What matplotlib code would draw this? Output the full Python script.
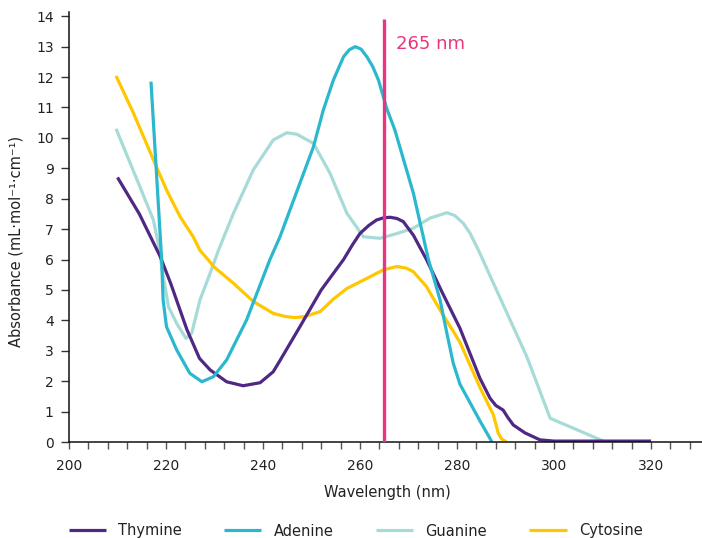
import numpy as np
import matplotlib
matplotlib.use("Agg")
import matplotlib.pyplot as plt

# ---- data (wavelength nm, absorbance) ----
thymine_x = [210, 214.5, 218.8, 221, 224.3, 226.9, 229.1, 232.5, 235.9, 239.4, 242.1, 243.5,
             247.6, 252, 256.6, 258.5, 260, 261.8, 263.4, 264.8, 266.2, 267.6, 268.9, 271, 273.7,
             277, 280.6, 284.7, 286.8, 288, 289.5, 290.5, 291.6, 294, 297.1, 300, 320]
thymine_y = [8.7, 7.5, 6.1, 5.2, 3.7, 2.75, 2.37, 1.98, 1.85, 1.95, 2.31, 2.68,
             3.79, 5.0, 6.0, 6.5, 6.86, 7.12, 7.3, 7.37, 7.39, 7.35, 7.25, 6.8, 6.0,
             4.9, 3.74, 2.1, 1.44, 1.2, 1.05, 0.8, 0.56, 0.3, 0.07, 0.03, 0.03]

adenine_x = [216.9, 219.1, 219.4, 220.1, 222.2, 224.9, 227.4, 229.8, 232.5, 236.6, 241.4, 243.5,
             250.4, 252.4, 254.5, 256.6, 257.8, 259, 260.2, 261.4, 262.6, 263.8, 265.5, 267.2,
             271, 274.1, 276.5, 277.9, 279.2, 280.6, 282, 284.7, 287.2]
adenine_y = [11.85, 6.0, 4.67, 3.79, 3.03, 2.26, 1.98, 2.15, 2.7, 4.01, 5.99, 6.75,
             9.71, 10.9, 11.9, 12.67, 12.9, 13.0, 12.92, 12.67, 12.35, 11.9, 10.97, 10.25,
             8.18, 6.0, 4.67, 3.58, 2.6, 1.9, 1.49, 0.7, 0.0]

guanine_x = [209.7, 214.6, 217.4, 218.8, 219.1, 220.5, 222.2, 224.1, 225.3, 227, 229.1, 230.8,
             233.9, 238, 242.1, 244.9, 247, 250.4, 253.8, 257.3, 260.7, 264.1, 267.5, 271,
             274.4, 277.9, 279.5, 281.3, 282.7, 284.7, 287.5, 294.4, 299.2, 303.3, 310.6]
guanine_y = [10.3, 8.4, 7.3, 6.2, 5.77, 4.45, 3.9, 3.41, 3.58, 4.67, 5.55, 6.3,
             7.52, 8.95, 9.93, 10.17, 10.12, 9.82, 8.84, 7.52, 6.75, 6.7, 6.85, 7.03,
             7.36, 7.54, 7.45, 7.19, 6.86, 6.21, 5.22, 2.8, 0.78, 0.5, 0.0]

cytosine_x = [209.7, 213.3, 217.4, 220.1, 222.9, 225.6, 227, 228.7, 229.8, 233.9, 238, 242.1,
              244.5, 246.5, 248.5, 251.8, 254.5, 257.3, 261.4, 264.8, 267.6, 269.5, 271, 273.7,
              276.5, 280.6, 284.7, 287.5, 288.5, 289.2, 290.2]
cytosine_y = [12.04, 10.81, 9.28, 8.29, 7.41, 6.75, 6.3, 5.99, 5.77, 5.22, 4.62, 4.23,
              4.13, 4.09, 4.12, 4.29, 4.7, 5.05, 5.38, 5.66, 5.77, 5.72, 5.6, 5.11,
              4.34, 3.28, 1.8, 0.89, 0.29, 0.1, 0.0]

marker_nm = 265
marker_label = "265 nm"

series_names = ["Thymine", "Adenine", "Guanine", "Cytosine"]
series_colors = ["#4F2884", "#2BB8CE", "#A7DBD8", "#FFC700"]
series_x = [thymine_x, adenine_x, guanine_x, cytosine_x]
series_y = [thymine_y, adenine_y, guanine_y, cytosine_y]
series_z = [2.2, 2.3, 2.0, 2.1]

x_major = [200, 220, 240, 260, 280, 300, 320]
y_ticks = list(range(0, 15))

# ---- figure ----
W, H = 702, 538
fig = plt.figure(figsize=(W / 100, H / 100), dpi=100)
ax = fig.add_axes([69 / W, 96 / H, (W - 69) / W, (442 - 12) / H])

handles = []
for name, c, xs, ys, z in zip(series_names, series_colors, series_x, series_y, series_z):
    h, = ax.plot(xs, ys, color=c, lw=2.3, label=name, zorder=z,
                 solid_joinstyle="round", solid_capstyle="butt")
    handles.append(h)

ax.vlines(marker_nm, 0, 13.9, color="#E8357F", lw=2.4, zorder=5)
ax.text(267.4, 13.1, marker_label, color="#E8357F", fontsize=13,
        ha="left", va="center")

ax.set_xlim(200, 330.5)
ax.set_ylim(0, 14.14)

for s in ["top", "right"]:
    ax.spines[s].set_visible(False)
for s in ["left", "bottom"]:
    ax.spines[s].set_linewidth(1.1)
    ax.spines[s].set_color("#111111")

xt = np.arange(200, 329, 4)
ax.set_xticks(xt)
ax.set_xticklabels([str(int(v)) if int(v) in x_major else "" for v in xt])
ax.set_yticks(y_ticks)
ax.set_yticklabels([str(v) for v in y_ticks])
ax.tick_params(axis="x", direction="out", length=5, width=1, color="#555555",
               labelsize=10, labelcolor="#222222", pad=7)
ax.tick_params(axis="y", direction="out", length=6, width=1, color="#333333",
               labelsize=10, labelcolor="#222222", pad=5)

ax.set_xlabel("Wavelength (nm)", fontsize=10.5, color="#222222", va="center")
ax.xaxis.set_label_coords((387 - 69) / 633, (442 - 493) / 430)
ax.set_ylabel("Absorbance (mL·mol⁻¹·cm⁻¹)", fontsize=10.5, color="#222222", va="center")
ax.yaxis.set_label_coords((16 - 69) / 633, (442 - 241) / 430)

fig.legend(handles=handles, labels=series_names, loc="center left",
           bbox_to_anchor=(68.6 / W, 7 / H), ncol=4, frameon=False,
           fontsize=10.5, handlelength=2.55, handletextpad=0.85,
           columnspacing=2.9, borderpad=0, borderaxespad=0,
           labelcolor="#222222")

fig.savefig("out.png", dpi=100)
